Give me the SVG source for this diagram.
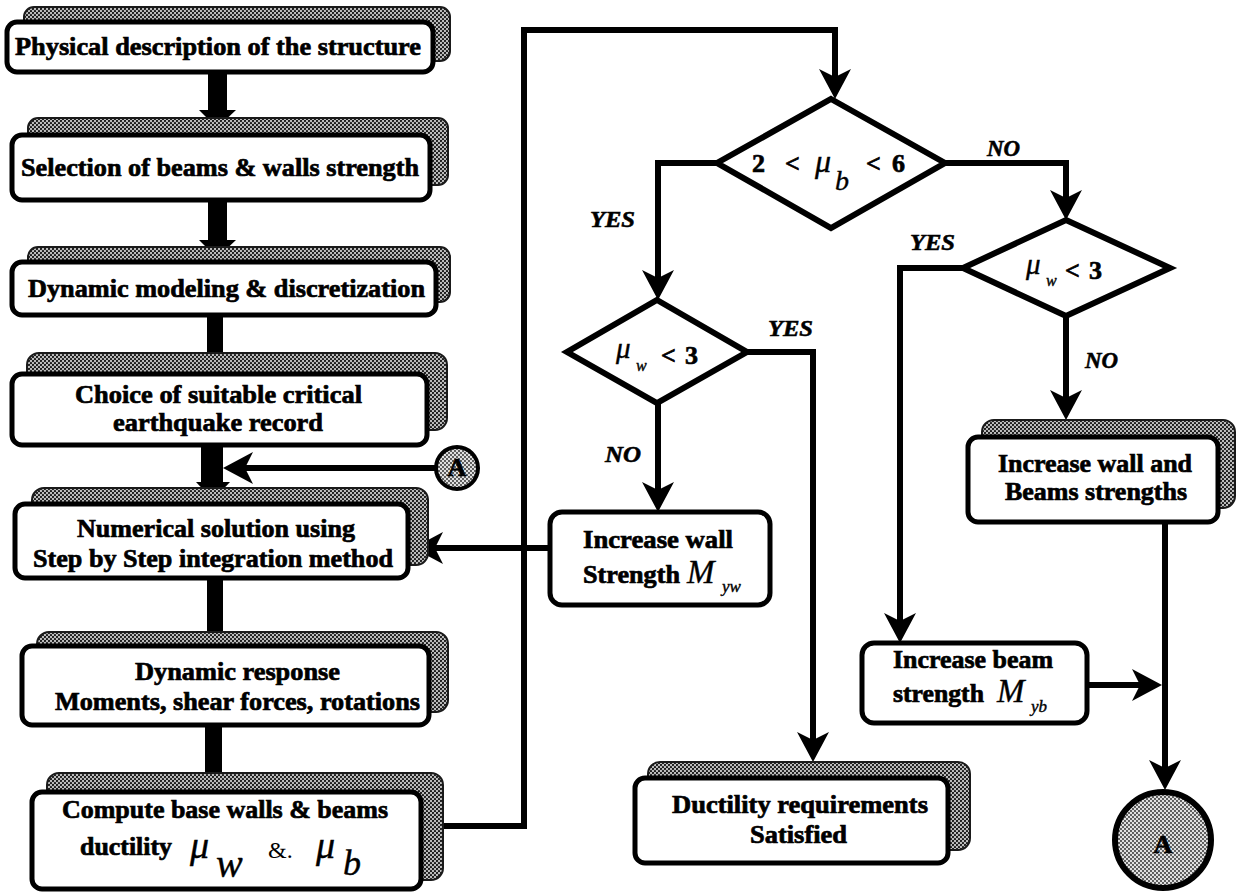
<svg xmlns="http://www.w3.org/2000/svg" width="1236" height="892" viewBox="0 0 1236 892">
<style>
.t{font-family:"Liberation Serif","Times New Roman",serif;font-weight:bold;font-size:26px;fill:#000;stroke:#000;stroke-width:0.7}
.it{font-family:"Liberation Serif","Times New Roman",serif;font-style:italic;fill:#000;stroke:#000;stroke-width:0.4}
.lbl{font-family:"Liberation Serif","Times New Roman",serif;font-style:italic;font-weight:bold;font-size:24px;fill:#000;stroke:#000;stroke-width:0.6}
.box{fill:#fff;stroke:#000;stroke-width:5}
.sh{fill:url(#ht);stroke:#1a1a1a;stroke-width:2}
.dia{fill:#fff;stroke:#000;stroke-width:6;stroke-linejoin:miter}
.ln{fill:none;stroke:#000;stroke-width:6;stroke-linejoin:miter}
.arr{marker-end:url(#ah)}
</style>
<defs>
<pattern id="ht" width="4" height="4" patternUnits="userSpaceOnUse">
<rect width="4" height="4" fill="#bdbdbd"/>
<circle cx="1" cy="1" r="1.1" fill="#111"/>
<circle cx="3" cy="3" r="1.1" fill="#111"/>
</pattern>
<pattern id="ht2" width="4" height="4" patternUnits="userSpaceOnUse">
<rect width="4" height="4" fill="#e0e0e0"/>
<circle cx="1" cy="1" r="0.9" fill="#222"/>
<circle cx="3" cy="3" r="0.9" fill="#222"/>
</pattern>
<marker id="ah" markerUnits="userSpaceOnUse" viewBox="0 0 30 32" markerWidth="30" markerHeight="32" refX="24" refY="16" orient="auto">
<path d="M0,0 L30,16 L0,32 L8,16 Z" fill="#000"/>
</marker>
</defs>

<g id="connectors">
<rect x="208" y="70" width="19" height="50" fill="#000"/>
<polygon points="199,110 236,110 217,128" fill="#000"/>
<rect x="208" y="198" width="19" height="52" fill="#000"/>
<polygon points="199,240 236,240 217,258" fill="#000"/>
<rect x="207" y="313" width="16" height="42" fill="#000"/>
<rect x="201" y="443" width="22" height="48" fill="#000"/>
<polygon points="196,482 230,482 213,500" fill="#000"/>
<rect x="207" y="576" width="16" height="58" fill="#000"/>
<rect x="205" y="723" width="17" height="52" fill="#000"/>
<path class="ln arr" d="M436,468 H229"/>
<path class="ln arr" d="M443,826 H524 V30 H835 V93"/>
<path class="ln arr" d="M717,163 H658 V294"/>
<path class="ln arr" d="M945,163 H1066 V214"/>
<path class="ln arr" d="M747,352 H813 V756"/>
<path class="ln arr" d="M658,402 V506"/>
<path class="ln arr" d="M550,548 H419"/>
<path class="ln arr" d="M965,268 H900 V637"/>
<path class="ln arr" d="M1066,316 V414"/>
<path class="ln arr" d="M1165,522 V784"/>
<path class="ln arr" d="M1087,685 H1156"/>
</g>

<g id="n1">
<rect class="sh" x="24" y="7" width="426" height="54" rx="10"/>
<rect class="box" x="7" y="22" width="426" height="50" rx="10"/>
<text class="t" x="15" y="55" textLength="406" lengthAdjust="spacingAndGlyphs">Physical description of the structure</text>
</g>
<g id="n2">
<rect class="sh" x="28" y="118" width="420" height="67" rx="10"/>
<rect class="box" x="12" y="135" width="418" height="65" rx="10"/>
<text class="t" x="21" y="176" textLength="398" lengthAdjust="spacingAndGlyphs">Selection of beams &amp; walls strength</text>
</g>
<g id="n3">
<rect class="sh" x="28" y="247" width="422" height="55" rx="10"/>
<rect class="box" x="12" y="262" width="424" height="53" rx="10"/>
<text class="t" x="28" y="297" textLength="397" lengthAdjust="spacingAndGlyphs">Dynamic modeling &amp; discretization</text>
</g>
<g id="n4">
<rect class="sh" x="27" y="353" width="420" height="77" rx="12"/>
<rect class="box" x="12" y="374" width="415" height="71" rx="10"/>
<text class="t" x="75" y="403" textLength="287" lengthAdjust="spacingAndGlyphs">Choice of suitable critical</text>
<text class="t" x="113" y="431" textLength="210" lengthAdjust="spacingAndGlyphs">earthquake record</text>
</g>
<g id="nA1">
<circle cx="457" cy="468" r="21" fill="url(#ht2)" stroke="#000" stroke-width="4"/>
<text class="t" x="457" y="476" font-size="22" text-anchor="middle">A</text>
</g>
<g id="n5">
<rect class="sh" x="32" y="488" width="396" height="77" rx="12"/>
<rect class="box" x="15" y="504" width="393" height="74" rx="10"/>
<text class="t" x="77" y="537" textLength="278" lengthAdjust="spacingAndGlyphs">Numerical solution using</text>
<text class="t" x="33" y="567" textLength="360" lengthAdjust="spacingAndGlyphs">Step by Step integration method</text>
</g>
<g id="n6">
<rect class="sh" x="37" y="632" width="411" height="80" rx="12"/>
<rect class="box" x="22" y="646" width="407" height="79" rx="10"/>
<text class="t" x="135" y="680" textLength="205" lengthAdjust="spacingAndGlyphs">Dynamic response</text>
<text class="t" x="55" y="710" textLength="365" lengthAdjust="spacingAndGlyphs">Moments, shear forces, rotations</text>
</g>
<g id="n7">
<rect class="sh" x="47" y="773" width="396" height="107" rx="12"/>
<rect class="box" x="32" y="792" width="389" height="97" rx="10"/>
<text class="t" x="62" y="818" textLength="326" lengthAdjust="spacingAndGlyphs">Compute base walls &amp; beams</text>
<text class="t" x="80" y="855" textLength="92" lengthAdjust="spacingAndGlyphs">ductility</text>
<text class="it" x="190" y="858" font-size="38">μ</text>
<text class="it" x="216" y="877" font-size="40">w</text>
<text x="268" y="858" font-family="Liberation Serif, serif" font-size="24">&amp;.</text>
<text class="it" x="316" y="858" font-size="38">μ</text>
<text class="it" x="343" y="875" font-size="36">b</text>
</g>

<g id="d1">
<polygon class="dia" points="831,99 945,163 831,228 717,163"/>
<text class="t" x="752" y="172" font-size="30">2</text>
<text class="t" x="785" y="172" font-size="30">&lt;</text>
<text class="it" x="815" y="172" font-size="32">μ</text>
<text class="it" x="835" y="190" font-size="28">b</text>
<text class="t" x="866" y="172" font-size="30">&lt;</text>
<text class="t" x="892" y="172" font-size="30">6</text>
</g>
<g id="d2">
<polygon class="dia" points="657,300 747,352 657,403 567,352"/>
<text class="it" x="616" y="358" font-size="29">μ</text>
<text class="it" x="636" y="371" font-size="16">w</text>
<text class="t" x="661" y="364" font-size="30">&lt;</text>
<text class="t" x="685" y="364" font-size="30">3</text>
</g>
<g id="d3">
<polygon class="dia" points="1066,220 1170,268 1066,316 963,268"/>
<text class="it" x="1026" y="274" font-size="29">μ</text>
<text class="it" x="1046" y="286" font-size="16">w</text>
<text class="t" x="1065" y="279" font-size="30">&lt;</text>
<text class="t" x="1089" y="279" font-size="30">3</text>
</g>

<g id="n8">
<rect class="box" x="550" y="512" width="220" height="93" rx="12"/>
<text class="t" x="583" y="548" textLength="150" lengthAdjust="spacingAndGlyphs">Increase wall</text>
<text class="t" x="583" y="583" textLength="97" lengthAdjust="spacingAndGlyphs">Strength</text>
<text class="it" x="687" y="583" font-size="33">M</text>
<text class="it" x="722" y="592" font-size="17">yw</text>
</g>
<g id="n9">
<rect class="sh" x="982" y="420" width="253" height="88" rx="12"/>
<rect class="box" x="968" y="437" width="250" height="85" rx="10"/>
<text class="t" x="998" y="472" textLength="194" lengthAdjust="spacingAndGlyphs">Increase wall and</text>
<text class="t" x="1005" y="500" textLength="182" lengthAdjust="spacingAndGlyphs">Beams strengths</text>
</g>
<g id="n10">
<rect class="box" x="862" y="643" width="225" height="80" rx="12"/>
<text class="t" x="893" y="668" textLength="160" lengthAdjust="spacingAndGlyphs">Increase beam</text>
<text class="t" x="893" y="702" textLength="91" lengthAdjust="spacingAndGlyphs">strength</text>
<text class="it" x="997" y="702" font-size="33">M</text>
<text class="it" x="1031" y="712" font-size="17">yb</text>
</g>
<g id="n11">
<rect class="sh" x="648" y="762" width="322" height="88" rx="12"/>
<rect class="box" x="635" y="778" width="313" height="85" rx="10"/>
<text class="t" x="672" y="813" textLength="256" lengthAdjust="spacingAndGlyphs">Ductility requirements</text>
<text class="t" x="750" y="843" textLength="97" lengthAdjust="spacingAndGlyphs">Satisfied</text>
</g>
<g id="nA2">
<circle cx="1163" cy="840" r="48" fill="url(#ht2)" stroke="#000" stroke-width="6"/>
<text class="t" x="1163" y="853" font-size="36" text-anchor="middle">A</text>
</g>

<g id="labels">
<text class="lbl" x="590" y="227" textLength="45" lengthAdjust="spacingAndGlyphs">YES</text>
<text class="lbl" x="987" y="156" textLength="33" lengthAdjust="spacingAndGlyphs">NO</text>
<text class="lbl" x="768" y="336" textLength="45" lengthAdjust="spacingAndGlyphs">YES</text>
<text class="lbl" x="605" y="462" textLength="36" lengthAdjust="spacingAndGlyphs">NO</text>
<text class="lbl" x="910" y="250" textLength="45" lengthAdjust="spacingAndGlyphs">YES</text>
<text class="lbl" x="1085" y="368" textLength="33" lengthAdjust="spacingAndGlyphs">NO</text>
</g>
</svg>
